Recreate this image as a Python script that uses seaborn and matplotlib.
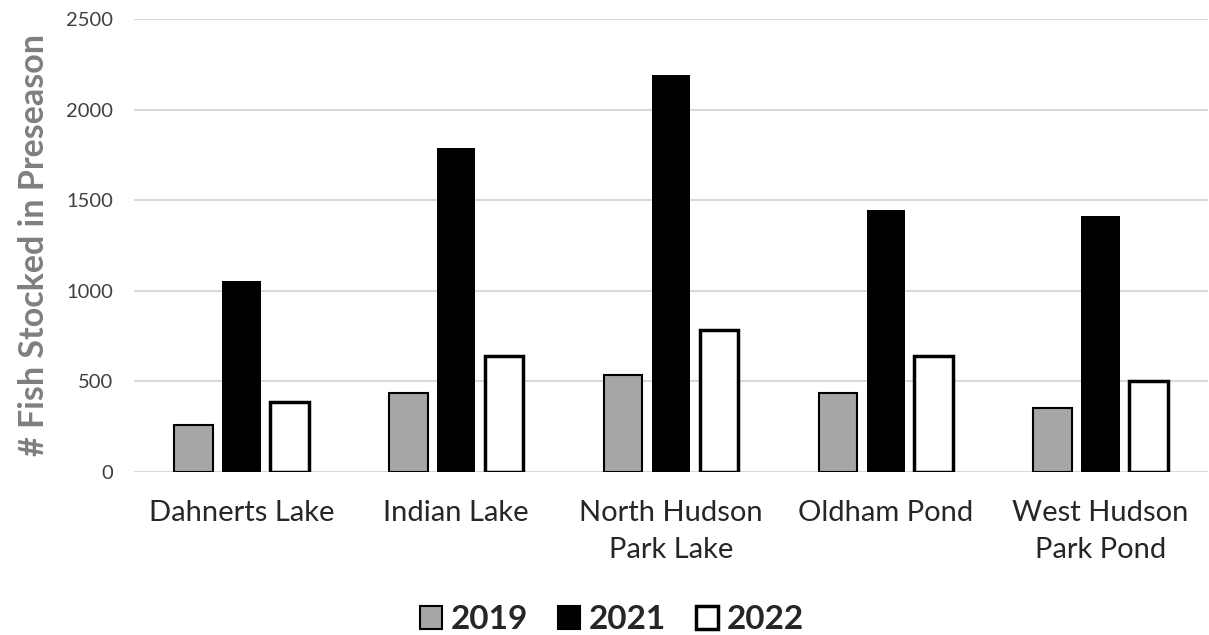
import pandas as pd
import numpy as np
import matplotlib.pyplot as plt
import seaborn as sns
from matplotlib.patches import Patch

lakes = ['Dahnerts Lake', 'Indian Lake', 'North Hudson\nPark Lake', 'Oldham Pond', 'West Hudson\nPark Pond']
years = ['2019', '2021', '2022']
fish_2019 = [258, 436, 536, 436, 352]
fish_2021 = [1052, 1790, 2190, 1448, 1410]
fish_2022 = [384, 642, 785, 642, 500]

colors = {'2019': '#a6a6a6', '2021': '#000000', '2022': '#ffffff'}
edge_w = {'2019': 1.5, '2021': 0.0, '2022': 2.5}

df = pd.DataFrame({
    'lake': lakes * 3,
    'year': ['2019'] * 5 + ['2021'] * 5 + ['2022'] * 5,
    'fish': fish_2019 + fish_2021 + fish_2022,
})

sns.set_theme(style='white')
plt.rcParams['font.family'] = ['Lato', 'DejaVu Sans']

fig = plt.figure(figsize=(12.09, 6.35), dpi=100)
ax = fig.add_axes([0.111, 0.257, 0.888, 0.713])

sns.barplot(data=df, x='lake', y='fish', hue='year', hue_order=years,
            palette=colors, width=0.67, gap=0.2, ax=ax, legend=False,
            edgecolor='black', saturation=1)

# edges differ per series
for cont, yr in zip(ax.containers, years):
    for p in cont:
        p.set_linewidth(edge_w[yr])
        p.set_edgecolor('black')

ax.set_ylim(0, 2500)
ax.set_yticks(range(0, 2501, 500))
ax.yaxis.grid(True, color='#d9d9d9', linewidth=1.5)
ax.set_axisbelow(True)
sns.despine(ax=ax, left=True, bottom=True)
ax.tick_params(axis='both', length=0)
ax.tick_params(axis='y', labelsize=14.5, labelcolor='#404040', pad=15)
ax.tick_params(axis='x', labelsize=21, labelcolor='#262626', pad=20)
for t in ax.get_xticklabels():
    t.set_linespacing(1.55)
ax.set_xlabel('')
ax.set_ylabel('# Fish Stocked in Preseason', fontsize=24.5, fontweight='bold',
              color='#7f7f7f')
ax.yaxis.set_label_coords(-0.078, 0.5)

handles = [Patch(facecolor=colors[y], edgecolor='black', linewidth=max(edge_w[y], 1.5)) for y in years]
fig.legend(handles, years, loc='center', bbox_to_anchor=(0.506, 0.024), ncol=3,
           frameon=False, prop={'size': 24, 'weight': 'bold'},
           handlelength=0.67, handleheight=0.67, handletextpad=0.25,
           columnspacing=0.9, borderpad=0.1)

fig.savefig('out.png', dpi=100)
